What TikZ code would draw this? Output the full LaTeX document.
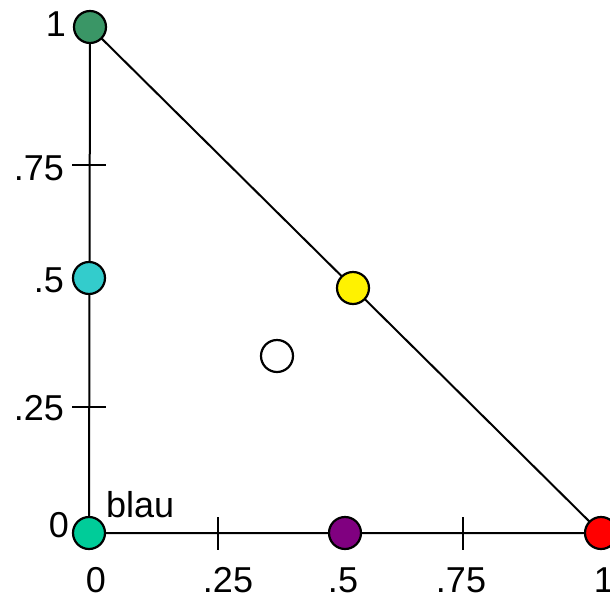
\documentclass[tikz,border=0pt]{standalone}
\usepackage{fontspec}
\setmainfont{Liberation Sans}
\usepackage{xcolor}
\usepackage{tikz}
\usetikzlibrary{positioning}

\definecolor{topgreen}{RGB}{58,150,102}
\definecolor{basegreen}{RGB}{0,204,153}
\definecolor{midcyan}{RGB}{51,204,204}
\definecolor{midpurple}{RGB}{128,0,128}

\begin{document}
\begin{tikzpicture}[
    x=1pt, y=-1pt,
    font=\fontsize{36}{36}\selectfont,
    dot/.style={circle, draw, line width=2.2pt, minimum size=32pt, inner sep=0pt},
    edge/.style={line width=2pt},
    tick/.style={line width=2pt},
    lbl/.style={inner sep=0pt}
]
\useasboundingbox (0,0) rectangle (610,600);

% corners and points of the triangle
\coordinate (O) at (89,533);
\coordinate (X) at (601,533);
\coordinate (Y) at (90,27);
\coordinate (Ymid) at (89,278);
\coordinate (Xmid) at (345,533);

% sides
\draw[edge] (O) -- (X) -- (Y) -- (O);

% ticks
\draw[tick] (72,165) -- (106,165);
\draw[tick] (72,407) -- (106,407);
\draw[tick] (218,517) -- (218,550);
\draw[tick] (463,517) -- (463,550);

% colour points
\node[dot, fill=basegreen] (o) at (O) {};
\node[dot, fill=red] (r) at (X) {};
\node[dot, fill=topgreen] (g) at (Y) {};
\node[dot, fill=midcyan] (c) at (Ymid) {};
\node[dot, fill=midpurple] (p) at (Xmid) {};
\node[dot, fill=yellow] (yl) at (353,288) {};
\node[dot, fill=white] (w) at (277,356) {};

% y labels
\node[lbl, anchor=east] (ly1) at (66,24) {1};
\node[lbl, anchor=east] (ly75) at (64,168) {.75};
\node[lbl, anchor=east] (ly5) at (64,280) {.5};
\node[lbl, anchor=east] (ly25) at (64,408) {.25};
\node[lbl, anchor=east] (ly0) at (69,525) {0};

% x labels
\node[lbl] (lx0) at (96,580) {0};
\node[lbl] (lx25) at (228,580) {.25};
\node[lbl] (lx5) at (343,580) {.5};
\node[lbl] (lx75) at (461,580) {.75};
\node[lbl] (lx1) at (604,580) {1};

\node[lbl, anchor=base west] (blau) at (106,517) {blau};
\end{tikzpicture}
\end{document}
